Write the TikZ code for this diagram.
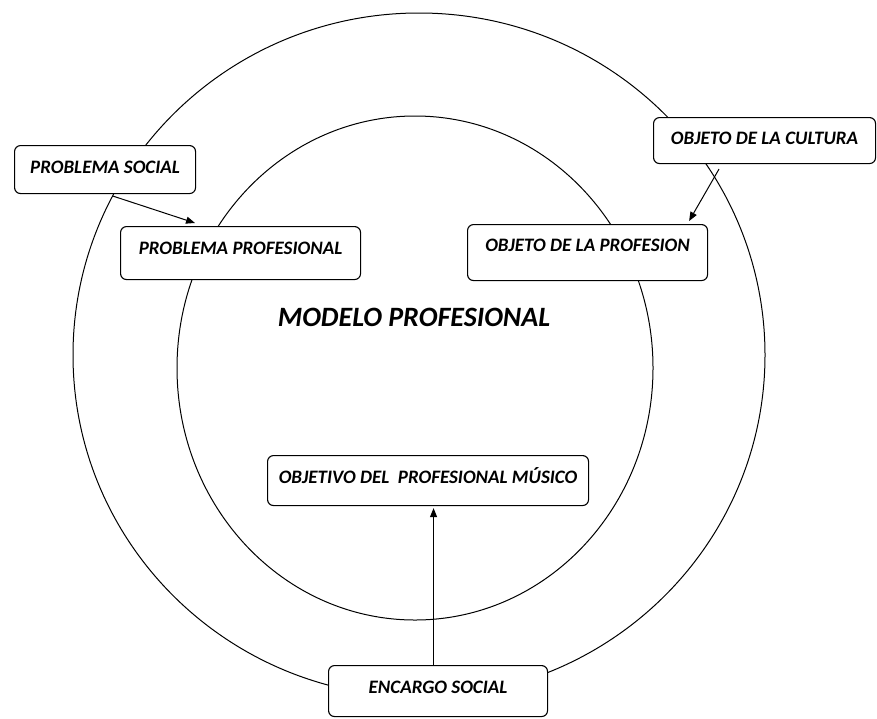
\documentclass[tikz,border=0pt]{standalone}
\usepackage{fontspec}
\setmainfont{Carlito}
\usetikzlibrary{arrows.meta}
\begin{document}
\begin{tikzpicture}[x=1pt,y=-1pt,
  lbl/.style={draw, fill=white, rounded corners=6pt, line width=1.1pt, inner sep=0pt,
    anchor=north west, font=\fontsize{19}{22}\selectfont\bfseries\itshape},
  ring/.style={line width=1pt},
  arr/.style={line width=1pt, -{Triangle[length=9pt,width=7pt]}}]
\useasboundingbox (0,0) rectangle (877,718);
\draw[ring] (419,355) ellipse [x radius=346pt, y radius=342pt];
\draw[ring] (415,368) ellipse [x radius=238pt, y radius=252pt];
\node[lbl, minimum width=181pt, text height=28pt, text depth=20pt] (ps) at (14,145) {PROBLEMA SOCIAL};
\node[lbl, minimum width=240pt, text height=28pt, text depth=25pt] (pp) at (120,226) {PROBLEMA PROFESIONAL};
\node[lbl, minimum width=222pt, text height=27pt, text depth=19pt] (oc) at (653,117) {OBJETO DE LA CULTURA};
\node[lbl, minimum width=240pt, text height=27pt, text depth=29pt] (op) at (467,224) {OBJETO DE LA PROFESION};
\node[lbl, minimum width=321pt, text height=28pt, text depth=22pt] (om) at (267,455) {OBJETIVO DEL\ \ PROFESIONAL MÚSICO};
\node[lbl, minimum width=219pt, text height=28pt, text depth=23pt] (es) at (328,665) {ENCARGO SOCIAL};
\node[font=\fontsize{28}{32}\selectfont\bfseries\itshape, inner sep=0pt] (mp) at (414,317) {MODELO PROFESIONAL};
\draw[arr] ([xshift=8pt,yshift=-2pt]ps.south) -- ([xshift=75pt,yshift=3pt]pp.north west);
\draw[arr] ([xshift=66pt,yshift=-5pt]oc.south west) -- ([xshift=-19pt,yshift=3pt]op.north east);
\draw[arr] ([xshift=-4.5pt]es.north) -- ([xshift=-4.5pt,yshift=-2pt]es.north |- om.south);
\end{tikzpicture}
\end{document}
